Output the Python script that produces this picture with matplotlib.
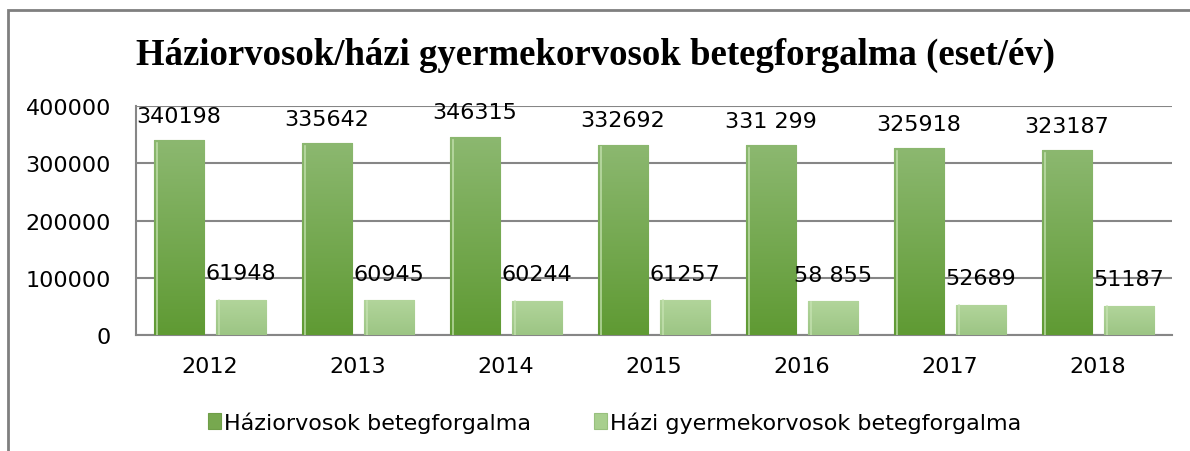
import matplotlib
matplotlib.use("Agg")
import matplotlib.pyplot as plt
import numpy as np
from matplotlib.colors import LinearSegmentedColormap
from matplotlib.patches import Rectangle

evek = ["2012", "2013", "2014", "2015", "2016", "2017", "2018"]
haziorvos = [340198, 335642, 346315, 332692, 331299, 325918, 323187]
gyermek = [61948, 60945, 60244, 61257, 58855, 52689, 51187]
haziorvos_cimke = ["340198", "335642", "346315", "332692", "331 299", "325918", "323187"]
gyermek_cimke = ["61948", "60945", "60244", "61257", "58 855", "52689", "51187"]

betu = "DejaVu Sans"

fig = plt.figure(figsize=(11.9, 4.52), dpi=100)
ax = fig.add_axes([0.1143, 0.2566, 0.8706, 0.5067])

# keret a diagram körül
fig.patches.append(Rectangle((8 / 1190, -0.1), 1.2, 1.1 - 11 / 452,
                             transform=fig.transFigure, fill=False,
                             edgecolor="#7f7f7f", linewidth=2))

x = np.arange(len(evek))
w = 0.338
d = 0.209

sotet = LinearSegmentedColormap.from_list("s", ["#5f9a33", "#8cb870"])
vilagos = LinearSegmentedColormap.from_list("v", ["#9cc584", "#b2d59b"])

b1 = ax.bar(x - d, haziorvos, w, color="#77a84f", edgecolor="#6f9e48", linewidth=0.8, zorder=3,
            label="Háziorvosok betegforgalma")
b2 = ax.bar(x + d, gyermek, w, color="#a8cf8e", edgecolor="#98c07e", linewidth=0.8, zorder=3,
            label="Házi gyermekorvosok betegforgalma")

grad = np.linspace(0, 1, 256).reshape(-1, 1)
for bars, cm in ((b1, sotet), (b2, vilagos)):
    for r in bars:
        x0, y0, bw, bh = r.get_x(), r.get_y(), r.get_width(), r.get_height()
        im = ax.imshow(grad, cmap=cm, origin="lower", aspect="auto",
                       extent=[x0, x0 + bw, y0, y0 + bh], zorder=3.5)
        im.set_clip_path(r)
        ax.plot([x0 + bw * 0.06] * 2, [y0, y0 + bh * 0.985], color="#c8e4b4",
                linewidth=1.2, alpha=0.8, zorder=3.6)

for i in range(len(evek)):
    ax.annotate(haziorvos_cimke[i], (x[i] - d, haziorvos[i]), xytext=(0, 17.5),
                textcoords="offset points", ha="center", va="center",
                fontsize=16, family=betu, zorder=5)
    ax.annotate(gyermek_cimke[i], (x[i] + d, gyermek[i]), xytext=(0, 19),
                textcoords="offset points", ha="center", va="center",
                fontsize=16, family=betu, zorder=5)

ax.set_xlim(-0.5, len(evek) - 0.5)
ax.set_ylim(0, 400000)
ax.set_yticks([0, 100000, 200000, 300000, 400000])
ax.set_yticklabels(["0", "100000", "200000", "300000", "400000"], family=betu, fontsize=16)
ax.set_xticks(x)
ax.set_xticklabels(evek, family=betu, fontsize=16)
ax.tick_params(axis="both", length=0)
ax.tick_params(axis="y", pad=18)
ax.tick_params(axis="x", pad=15)
ax.yaxis.grid(True, color="#868686", linewidth=1.5, zorder=1)
for s in ("top", "right"):
    ax.spines[s].set_visible(False)
for s in ("left", "bottom"):
    ax.spines[s].set_color("#868686")
    ax.spines[s].set_linewidth(1.5)

fig.text(0.5, 0.878, "Háziorvosok/házi gyermekorvosok betegforgalma (eset/év)",
         ha="center", va="center", fontsize=26.5, fontweight="bold", family="Liberation Serif")

ax.legend(loc="center", bbox_to_anchor=(0.462, -0.38), ncol=2, frameon=False,
          prop={"family": betu, "size": 16}, handlelength=0.6, handleheight=0.7,
          handletextpad=0.15, columnspacing=2.8)

fig.savefig("out.png", dpi=100)
